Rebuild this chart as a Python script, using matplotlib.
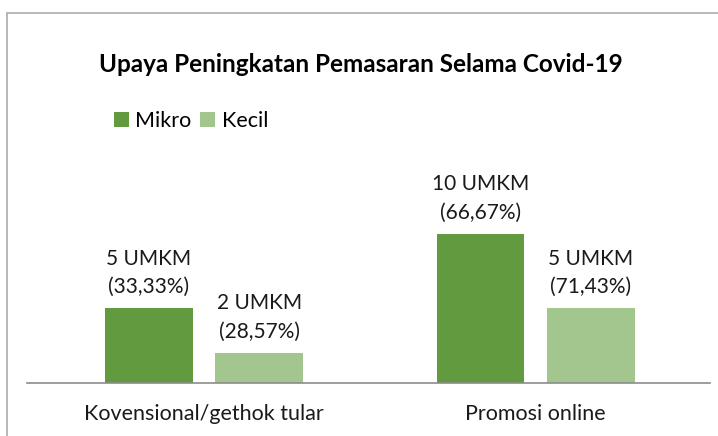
import numpy as np
import matplotlib.pyplot as plt
from matplotlib.patches import Rectangle

# data
categories = ['Kovensional/gethok tular', 'Promosi online']
mikro = [5, 10]
kecil = [2, 5]
mikro_pct = ['33,33%', '66,67%']
kecil_pct = ['28,57%', '71,43%']

plt.rcParams['font.family'] = ['Lato', 'DejaVu Sans']

W, H = 718, 436
fig = plt.figure(figsize=(W / 100, H / 100), dpi=100)

# chart border (runs off the right/bottom edge like the source)
fig.patches.append(Rectangle((7 / W, -0.1), 1.2, 1 - 13 / H + 0.1,
                             transform=fig.transFigure, fill=False,
                             edgecolor='#ABABAB', linewidth=1.2))

ax = fig.add_axes([27 / W, (H - 383) / H, 683 / W, 179 / H])

x = np.arange(len(categories))
bw = 0.265
off = 0.166
c_mikro = '#629B3F'
c_kecil = '#A3C68F'

b1 = ax.bar(x - off, mikro, bw, color=c_mikro, label='Mikro')
b2 = ax.bar(x + off, kecil, bw, color=c_kecil, label='Kecil')

for bars, vals, pcts in [(b1, mikro, mikro_pct), (b2, kecil, kecil_pct)]:
    for b, v, p in zip(bars, vals, pcts):
        ax.annotate(f'{v} UMKM\n({p})', (b.get_x() + b.get_width() / 2, v),
                    xytext=(0, 8), textcoords='offset points',
                    ha='center', va='bottom', fontsize=15,
                    linespacing=1.55, color='#1a1a1a', clip_on=False)

ax.set_xlim(-0.534, 1.526)
ax.set_ylim(0, 12)
ax.set_yticks([])
ax.set_xticks(x)
ax.set_xticklabels(categories, fontsize=15.5, color='#1a1a1a')
ax.tick_params(axis='x', length=0, pad=15)
for s in ['top', 'right', 'left']:
    ax.spines[s].set_visible(False)
ax.spines['bottom'].set_color('#8C8C8C')
ax.spines['bottom'].set_linewidth(1.2)

fig.text(361 / W, 1 - 65 / H, 'Upaya Peningkatan Pemasaran Selama Covid-19',
         ha='center', va='center', fontsize=17.5, fontweight='bold', color='black')

fig.legend(handles=[b1, b2], labels=['Mikro', 'Kecil'], loc='center left',
           bbox_to_anchor=(103 / W, 1 - 121 / H), ncol=2, frameon=False,
           fontsize=15.5, handlelength=0.7, handleheight=0.7,
           handletextpad=0.3, columnspacing=0.4, borderpad=0)

fig.savefig('out.png', dpi=100)
